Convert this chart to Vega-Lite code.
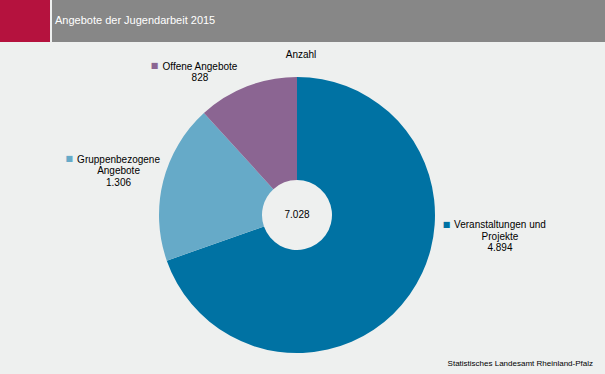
{
  "$schema": "https://vega.github.io/schema/vega-lite/v6.json",
  "width": 605,
  "height": 374,
  "autosize": "none",
  "padding": 0,
  "background": "#eef0ef",
  "config": {
    "view": {"stroke": null},
    "font": "Liberation Sans",
    "locale": {"number": {"decimal": ",", "thousands": ".", "grouping": [3], "currency": ["", " €"]}}
  },
  "data": {
    "values": [
      {"cat": "Veranstaltungen und Projekte", "value": 4894, "order": 1, "label": ["Veranstaltungen und", "Projekte", "4.894"]},
      {"cat": "Gruppenbezogene Angebote", "value": 1306, "order": 2, "label": ["Gruppenbezogene", "Angebote", "1.306"]},
      {"cat": "Offene Angebote", "value": 828, "order": 3, "label": ["Offene Angebote", "828"]}
    ]
  },
  "layer": [
    {
      "data": {"values": [{}]},
      "mark": {"type": "rect", "x": 0, "x2": 50, "y": 0, "y2": 42, "color": "#B5123E"},
      "encoding": {}
    },
    {
      "data": {"values": [{}]},
      "mark": {"type": "rect", "x": 52, "x2": 605, "y": 0, "y2": 42, "color": "#878787"},
      "encoding": {}
    },
    {
      "data": {"values": [{}]},
      "mark": {"type": "text", "x": 55, "y": 21, "align": "left", "baseline": "middle", "fontSize": 11, "color": "#ffffff", "text": "Angebote der Jugendarbeit 2015"},
      "encoding": {}
    },
    {
      "data": {"values": [{}]},
      "mark": {"type": "text", "x": 301, "y": 55, "align": "center", "baseline": "middle", "fontSize": 10, "color": "#000000", "text": "Anzahl"},
      "encoding": {}
    },
    {
      "data": {"values": [{}]},
      "mark": {"type": "text", "x": 593, "y": 364, "align": "right", "baseline": "middle", "fontSize": 8, "color": "#000000", "text": "Statistisches Landesamt Rheinland-Pfalz"},
      "encoding": {}
    },
    {
      "mark": {"type": "arc", "x": 297, "y": 215, "outerRadius": 138, "innerRadius": 35},
      "encoding": {
        "theta": {"field": "value", "type": "quantitative", "stack": true},
        "order": {"field": "order", "type": "quantitative"},
        "color": {
          "field": "cat", "type": "nominal", "legend": null,
          "scale": {"domain": ["Veranstaltungen und Projekte", "Gruppenbezogene Angebote", "Offene Angebote"], "range": ["#0072A3", "#66AAC8", "#8B6592"]}
        }
      }
    },
    {
      "transform": [{"aggregate": [{"op": "sum", "field": "value", "as": "total"}]}],
      "mark": {"type": "text", "x": 297, "y": 215, "align": "center", "baseline": "middle", "fontSize": 10, "color": "#000000"},
      "encoding": {"text": {"field": "total", "type": "quantitative", "format": ",d"}}
    },
    {
      "mark": {"type": "text", "x": 297, "y": 215, "radius": 150, "align": "center", "baseline": "middle", "fontSize": 10, "lineHeight": 11.5, "color": "#000000", "dx": 80.6, "dy": -76.4},
      "encoding": {
        "theta": {"field": "value", "type": "quantitative", "stack": true},
        "order": {"field": "order", "type": "quantitative"},
        "text": {"condition": {"test": "datum.order === 1", "field": "label"}, "value": ""}
      }
    },
    {
      "mark": {"type": "text", "x": 297, "y": 215, "radius": 150, "align": "center", "baseline": "middle", "fontSize": 10, "lineHeight": 11.5, "color": "#000000", "dx": -33, "dy": -18.8},
      "encoding": {
        "theta": {"field": "value", "type": "quantitative", "stack": true},
        "order": {"field": "order", "type": "quantitative"},
        "text": {"condition": {"test": "datum.order === 2", "field": "label"}, "value": ""}
      }
    },
    {
      "mark": {"type": "text", "x": 297, "y": 215, "radius": 150, "align": "center", "baseline": "middle", "fontSize": 10, "lineHeight": 11.5, "color": "#000000", "dx": -42.8, "dy": -8.3},
      "encoding": {
        "theta": {"field": "value", "type": "quantitative", "stack": true},
        "order": {"field": "order", "type": "quantitative"},
        "text": {"condition": {"test": "datum.order === 3", "field": "label"}, "value": ""}
      }
    },
    {
      "mark": {"type": "text", "x": 297, "y": 215, "radius": 150, "align": "center", "baseline": "middle", "fontSize": 8, "font": "DejaVu Sans", "dx": 27.1, "dy": -77.2},
      "encoding": {
        "theta": {"field": "value", "type": "quantitative", "stack": true},
        "order": {"field": "order", "type": "quantitative"},
        "color": {"field": "cat", "type": "nominal", "legend": null},
        "text": {"condition": {"test": "datum.order === 1", "value": "■"}, "value": ""}
      }
    },
    {
      "mark": {"type": "text", "x": 297, "y": 215, "radius": 150, "align": "center", "baseline": "middle", "fontSize": 8, "font": "DejaVu Sans", "dx": -82.3, "dy": -19.5},
      "encoding": {
        "theta": {"field": "value", "type": "quantitative", "stack": true},
        "order": {"field": "order", "type": "quantitative"},
        "color": {"field": "cat", "type": "nominal", "legend": null},
        "text": {"condition": {"test": "datum.order === 2", "value": "■"}, "value": ""}
      }
    },
    {
      "mark": {"type": "text", "x": 297, "y": 215, "radius": 150, "align": "center", "baseline": "middle", "fontSize": 8, "font": "DejaVu Sans", "dx": -88.3, "dy": -8.7},
      "encoding": {
        "theta": {"field": "value", "type": "quantitative", "stack": true},
        "order": {"field": "order", "type": "quantitative"},
        "color": {"field": "cat", "type": "nominal", "legend": null},
        "text": {"condition": {"test": "datum.order === 3", "value": "■"}, "value": ""}
      }
    }
  ]
}
